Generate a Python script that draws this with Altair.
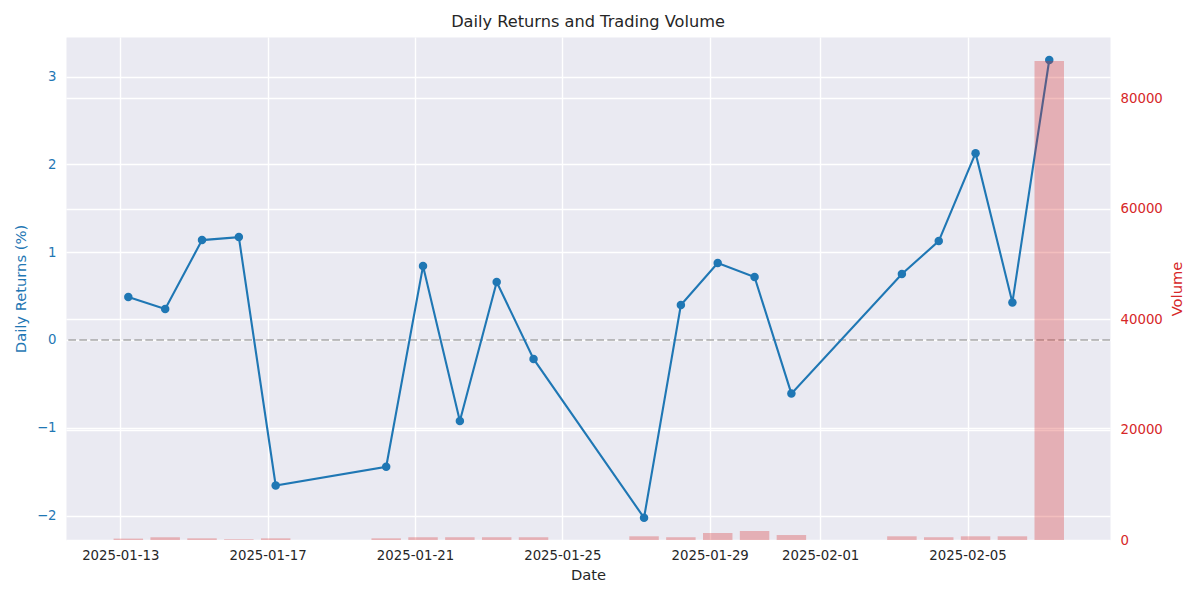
import altair as alt
import pandas as pd

dates = ["2025-01-13", "2025-01-14", "2025-01-15", "2025-01-16", "2025-01-17",
         "2025-01-20", "2025-01-21", "2025-01-22", "2025-01-23", "2025-01-24",
         "2025-01-27", "2025-01-28", "2025-01-29", "2025-01-30", "2025-01-31",
         "2025-02-03", "2025-02-04", "2025-02-05", "2025-02-06", "2025-02-07"]
returns = [0.489, 0.353, 1.138, 1.172, -1.658,
           -1.445, 0.842, -0.922, 0.660, -0.216,
           -2.026, 0.398, 0.876, 0.717, -0.611,
           0.751, 1.127, 2.128, 0.428, 3.190]
volumes = [250, 490, 300, 130, 300,
           300, 500, 500, 500, 500,
           670, 500, 1270, 1630, 900,
           670, 500, 670, 670, 86750]
time_of_day = "05:15:00"
x_ticks = ["2025-01-13", "2025-01-17", "2025-01-21", "2025-01-25",
           "2025-01-29", "2025-02-01", "2025-02-05"]
left_ticks = [-2, -1, 0, 1, 2, 3]
right_ticks = [0, 20000, 40000, 60000, 80000]

ts = pd.to_datetime([d + " " + time_of_day for d in dates])
fmt = "%Y-%m-%dT%H:%M:%S"
df = pd.DataFrame({
    "Date": ts.strftime(fmt),
    "start": (ts - pd.Timedelta(hours=9.6)).strftime(fmt),
    "end": (ts + pd.Timedelta(hours=9.6)).strftime(fmt),
    "Returns": returns,
    "Volume": volumes,
    "base": [0] * len(dates),
})

def dt(s, h=0, m=0):
    y, mo, d = [int(v) for v in s.split("-")]
    return alt.DateTime(year=y, month=mo, date=d, hours=h, minutes=m)

x_domain = [dt("2025-01-11", 12, 38), dt("2025-02-08", 20, 50)]
x_vals = [dt(s) for s in x_ticks]

BLUE = "#1f77b4"
RED = "#d62728"
DARK = "#262626"
FONT = "DejaVu Sans"

x_enc = alt.X("Date:T", title="Date",
              scale=alt.Scale(domain=x_domain),
              axis=alt.Axis(values=x_vals, format="%Y-%m-%d", labelFontSize=13.3,
                            labelColor=DARK, titleFontSize=14.7, titleColor=DARK,
                            titleFontWeight="normal", labelPadding=8, titlePadding=6,
                            grid=True, gridColor="white", gridWidth=1.4,
                            ticks=False, domain=False, labelFont=FONT, titleFont=FONT))

left_scale = alt.Scale(domain=[-2.279, 3.452], nice=False, zero=False)
y_left = alt.Y("Returns:Q", title="Daily Returns (%)", scale=left_scale,
               axis=alt.Axis(values=left_ticks, format="d", labelColor=BLUE, titleColor=BLUE,
                             labelFontSize=13.3, titleFontSize=14.7, titleFontWeight="normal",
                             grid=True, gridColor="white", gridWidth=1.4, ticks=False,
                             domain=False, labelPadding=10, titlePadding=8,
                             labelFont=FONT, titleFont=FONT, orient="left"))

base = alt.Chart(df)

line = base.mark_line(color=BLUE, strokeWidth=2.1).encode(x=x_enc, y=y_left)
points = base.mark_point(color=BLUE, filled=True, opacity=1, size=72).encode(x=x_enc, y=y_left)
zero_df = pd.DataFrame({"zero": [0]})
rule = alt.Chart(zero_df).mark_rule(color="gray", opacity=0.5, strokeWidth=2,
                                    strokeDash=[7.7, 3.3]).encode(
    y=alt.Y("zero:Q", scale=left_scale))

left = alt.layer(rule, line, points)

bars = base.mark_rect(color=RED, opacity=0.3).encode(
    x=alt.X("start:T", scale=alt.Scale(domain=x_domain), title="Date"),
    x2="end:T",
    y=alt.Y("Volume:Q", title="Volume",
            scale=alt.Scale(domain=[0, 91100], nice=False),
            axis=alt.Axis(values=right_ticks, format="d", labelColor=RED, titleColor=RED,
                          labelFontSize=13.3, titleFontSize=14.7, titleFontWeight="normal",
                          grid=True, gridColor="white", gridWidth=1.4, ticks=False,
                          domain=False, labelPadding=10, titlePadding=22, titleAngle=270,
                          labelFont=FONT, titleFont=FONT, orient="right")),
    y2="base:Q",
)

chart = alt.layer(left, bars).resolve_scale(y="independent").properties(
    width=1044, height=503,
    title=alt.TitleParams("Daily Returns and Trading Volume", fontSize=16.2,
                          fontWeight="normal", color=DARK, font=FONT, offset=7),
    autosize=alt.AutoSizeParams(type="none"),
    padding={"left": 66, "top": 37, "right": 90, "bottom": 60},
    background="white",
).configure_view(fill="#EAEAF2", stroke="transparent")

chart.save("out.html", embed_options={"renderer": "svg", "actions": False})
